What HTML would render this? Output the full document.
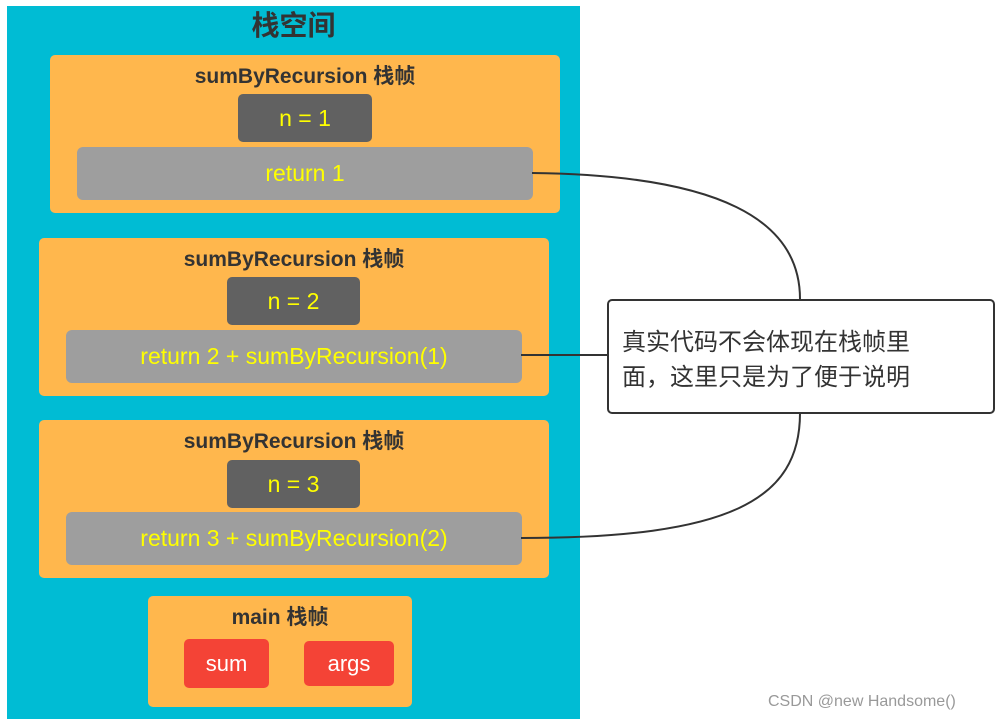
<!DOCTYPE html>
<html><head><meta charset="utf-8"><style>
body{margin:0;width:1000px;height:723px;background:#fff;position:relative;overflow:hidden;font-family:"Liberation Sans","Noto Sans CJK SC",sans-serif}
div{position:absolute;box-sizing:border-box}
.f{background:#ffb74d;border-radius:5px}
.t{color:#333;font-weight:bold;font-size:21px;text-align:center;left:0;right:0}
.n{background:#616161;border-radius:5px;color:#ffff00;font-size:23px;text-align:center}
.r{background:#9e9e9e;border-radius:6px;color:#ffff00;font-size:23px;text-align:center}
.s{background:#f44336;border-radius:5px;color:#fff;font-size:22px;text-align:center}
</style></head><body>
<div style="left:7px;top:6px;width:573px;height:713px;background:#00bcd4"></div>
<div style="left:7px;top:6px;width:573px;text-align:center;font-size:28px;font-weight:bold;color:#333;line-height:40px">栈空间</div>

<div class="f" style="left:50px;top:55px;width:510px;height:158px">
 <div class="t" style="top:5px">sumByRecursion 栈帧</div></div>
<div class="n" style="left:238px;top:94px;width:134px;height:48px;line-height:48px">n = 1</div>
<div class="r" style="left:77px;top:147px;width:456px;height:53px;line-height:53px">return 1</div>

<div class="f" style="left:39px;top:238px;width:510px;height:158px">
 <div class="t" style="top:5px">sumByRecursion 栈帧</div></div>
<div class="n" style="left:227px;top:277px;width:133px;height:48px;line-height:48px">n = 2</div>
<div class="r" style="left:66px;top:330px;width:456px;height:53px;line-height:53px">return 2 + sumByRecursion(1)</div>

<div class="f" style="left:39px;top:420px;width:510px;height:158px">
 <div class="t" style="top:5px">sumByRecursion 栈帧</div></div>
<div class="n" style="left:227px;top:460px;width:133px;height:48px;line-height:48px">n = 3</div>
<div class="r" style="left:66px;top:512px;width:456px;height:53px;line-height:53px">return 3 + sumByRecursion(2)</div>

<div class="f" style="left:148px;top:596px;width:264px;height:111px">
 <div class="t" style="top:5px">main 栈帧</div></div>
<div class="s" style="left:184px;top:639px;width:85px;height:49px;line-height:49px">sum</div>
<div class="s" style="left:304px;top:641px;width:90px;height:45px;line-height:45px">args</div>

<svg style="position:absolute;left:0;top:0" width="1000" height="723">
<path d="M532,173 C720,175 800,220 800,299" fill="none" stroke="#333" stroke-width="2"/>
<path d="M521,355 L607,355" fill="none" stroke="#333" stroke-width="2"/>
<path d="M800,413 C800,500 730,538 521,538" fill="none" stroke="#333" stroke-width="2"/>
</svg>
<div style="left:607px;top:299px;width:388px;height:115px;border:2px solid #333;border-radius:5px;background:#fff;padding:24px 0 0 13px;font-size:24px;line-height:35px;color:#333">真实代码不会体现在栈帧里<br>面，这里只是为了便于说明</div>
<div style="left:768px;top:693px;font-size:16px;color:#999">CSDN @new Handsome()</div>
</body></html>
